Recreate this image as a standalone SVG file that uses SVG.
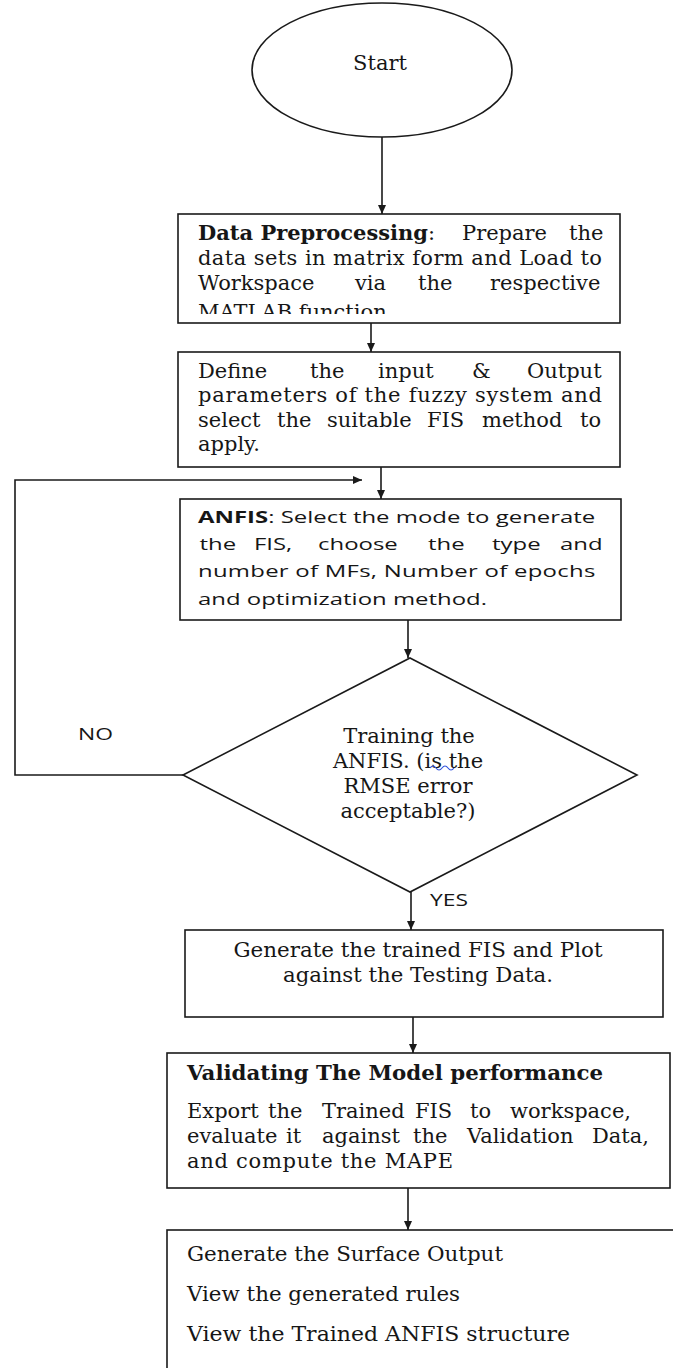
<svg xmlns="http://www.w3.org/2000/svg" width="673" height="1368" viewBox="0 0 673 1368">
  <style>
    .box { fill: #ffffff; stroke: #1a1a1a; stroke-width: 1.6; }
    .serif { font-family: "DejaVu Serif", "Liberation Serif", serif; font-size: 21px; fill: #161616; }
    .bold { font-weight: bold; }
    .sans { font-family: "Open Sans", "Liberation Sans", sans-serif; font-size: 16.5px; fill: #161616; }
    .mid { text-anchor: middle; }
    .conn { stroke: #1a1a1a; stroke-width: 1.6; fill: none; marker-end: url(#arrow); }
  </style>
  <defs>
    <marker id="arrow" markerUnits="userSpaceOnUse" markerWidth="10" markerHeight="10" refX="9" refY="5" orient="auto">
      <path d="M0,1 L9,5 L0,9 z" fill="#1a1a1a"/>
    </marker>
    <clipPath id="clipData">
      <rect x="178" y="214" width="442" height="100"/>
    </clipPath>
  </defs>

  <rect width="673" height="1368" fill="#ffffff"/>

  <!-- connectors -->
  <g id="connectors">
    <path class="conn" d="M382,137 L382,214"/>
    <path class="conn" d="M371,323 L371,352"/>
    <path class="conn" d="M381,467 L381,499"/>
    <path class="conn" d="M408,620 L408,658"/>
    <path class="conn" d="M183,775 L15,775 L15,480 L362,480"/>
    <path class="conn" d="M411,892 L411,930"/>
    <path class="conn" d="M413,1017 L413,1053"/>
    <path class="conn" d="M408,1188 L408,1230"/>
    <text class="sans" x="78" y="740" textLength="35" lengthAdjust="spacingAndGlyphs">NO</text>
    <text class="sans" x="430" y="906" font-size="15" textLength="38" lengthAdjust="spacingAndGlyphs">YES</text>
  </g>

  <!-- start terminal -->
  <g id="start">
    <ellipse class="box" cx="382" cy="70" rx="130" ry="67"/>
    <text class="serif mid" x="380" y="70">Start</text>
  </g>

  <!-- data preprocessing -->
  <g id="preprocess">
    <rect class="box" x="178" y="214" width="442" height="109"/>
    <g clip-path="url(#clipData)">
      <text class="serif" y="240"><tspan class="bold" x="198" textLength="230" lengthAdjust="spacingAndGlyphs">Data Preprocessing</tspan><tspan>:</tspan><tspan x="462">Prepare</tspan><tspan x="569">the</tspan></text>
      <text class="serif" x="198" y="265" textLength="404" lengthAdjust="spacing">data sets in matrix form and Load to</text>
      <text class="serif" y="290"><tspan x="198">Workspace</tspan><tspan x="355">via</tspan><tspan x="418">the</tspan><tspan x="490">respective</tspan></text>
      <text class="serif" x="198" y="319">MATLAB function</text>
    </g>
  </g>

  <!-- fuzzy system definition -->
  <g id="define">
    <rect class="box" x="178" y="352" width="442" height="115"/>
    <text class="serif" y="378"><tspan x="198">Define</tspan><tspan x="310">the</tspan><tspan x="378">input</tspan><tspan x="472">&amp;</tspan><tspan x="527">Output</tspan></text>
    <text class="serif" x="198" y="402" textLength="404" lengthAdjust="spacing">parameters of the fuzzy system and</text>
    <text class="serif" y="427"><tspan x="198">select</tspan><tspan x="277">the</tspan><tspan x="327">suitable</tspan><tspan x="427">FIS</tspan><tspan x="482">method</tspan><tspan x="580">to</tspan></text>
    <text class="serif" x="198" y="451">apply.</text>
  </g>

  <!-- ANFIS setup -->
  <g id="anfis">
    <rect class="box" x="180" y="499" width="441" height="121"/>
    <g transform="translate(198 0) scale(1.45 1)">
      <text class="sans" x="0" y="523" textLength="274" lengthAdjust="spacing"><tspan class="bold">ANFIS</tspan>: Select the mode to generate</text>
      <text class="sans" y="550"><tspan x="1">the</tspan><tspan x="38.6">FIS,</tspan><tspan x="82.8">choose</tspan><tspan x="158.6">the</tspan><tspan x="202.8">type</tspan><tspan x="249.7">and</tspan></text>
      <text class="sans" x="0" y="577" textLength="274" lengthAdjust="spacing">number of MFs, Number of epochs</text>
      <text class="sans" x="0" y="605">and optimization method.</text>
    </g>
  </g>

  <!-- training decision -->
  <g id="decision">
    <polygon class="box" points="410,658 637,775 410,892 183,775"/>
    <text class="serif mid" x="409" y="743">Training the</text>
    <text class="serif mid" x="408" y="768">ANFIS. (is the</text>
    <path d="M430,768 q3,-4 6,0 t6,0 t6,0 t6,0" fill="none" stroke="#3355dd" stroke-width="1.2"/>
    <text class="serif mid" x="408" y="793">RMSE error</text>
    <text class="serif mid" x="408" y="818">acceptable?)</text>
  </g>

  <!-- trained FIS output -->
  <g id="generate">
    <rect class="box" x="185" y="930" width="478" height="87"/>
    <text class="serif mid" x="418" y="957" textLength="369" lengthAdjust="spacingAndGlyphs">Generate the trained FIS and Plot</text>
    <text class="serif mid" x="418" y="982" textLength="270" lengthAdjust="spacingAndGlyphs">against the Testing Data.</text>
  </g>

  <!-- validation -->
  <g id="validate">
    <rect class="box" x="167" y="1053" width="503" height="135"/>
    <text class="serif bold" x="187" y="1080" textLength="416" lengthAdjust="spacingAndGlyphs">Validating The Model performance</text>
    <text class="serif" y="1118"><tspan x="187">Export</tspan><tspan x="268">the</tspan><tspan x="322">Trained</tspan><tspan x="415">FIS</tspan><tspan x="470">to</tspan><tspan x="510">workspace,</tspan></text>
    <text class="serif" y="1143"><tspan x="187">evaluate</tspan><tspan x="286">it</tspan><tspan x="322">against</tspan><tspan x="413">the</tspan><tspan x="467">Validation</tspan><tspan x="592">Data,</tspan></text>
    <text class="serif" x="187" y="1168" textLength="266" lengthAdjust="spacing">and compute the MAPE</text>
  </g>

  <!-- outputs -->
  <g id="outputs">
    <rect class="box" x="167" y="1230" width="600" height="200"/>
    <text class="serif" x="187" y="1261" textLength="316" lengthAdjust="spacingAndGlyphs">Generate the Surface Output</text>
    <text class="serif" x="187" y="1301" textLength="273" lengthAdjust="spacingAndGlyphs">View the generated rules</text>
    <text class="serif" x="187" y="1341" textLength="383" lengthAdjust="spacingAndGlyphs">View the Trained ANFIS structure</text>
  </g>
</svg>
